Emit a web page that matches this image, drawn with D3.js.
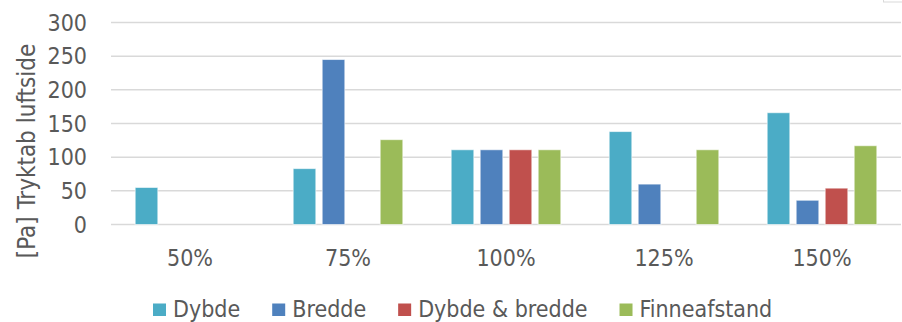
<!DOCTYPE html>
<html>
<head>
<meta charset="utf-8">
<script src="https://cdn.jsdelivr.net/npm/d3@7"></script>
<style>
  body { margin: 0; background: #fff; }
  svg text { font-family: "DejaVu Sans Condensed", "DejaVu Sans", sans-serif; fill: #595959; }
</style>
</head>
<body>
<div id="chart"></div>
<script>
// categories and series
const categories = ['50%', '75%', '100%', '125%', '150%'];
const seriesNames = ['Dybde', 'Bredde', 'Dybde & bredde', 'Finneafstand'];
const seriesColors = ['#4BACC6', '#4F81BD', '#C0504D', '#9BBB59'];

// values per series, one per category (null = no bar)
const dybde       = [55, 83, 111, 138, 166];
const bredde      = [null, 245, 111, 60, 36];
const dybdeBredde = [null, null, 111, null, 54];
const finne       = [null, 126, 111, 111, 117];
const seriesValues = [dybde, bredde, dybdeBredde, finne];

const yTicks = [0, 50, 100, 150, 200, 250, 300];
const yTitle = '[Pa] Tryktab luftside';

const width = 902, height = 322;
const margin = { top: 22.5, right: 1, bottom: 97.5, left: 111 };

const svg = d3.select('#chart').append('svg')
    .attr('width', width)
    .attr('height', height);

const x0 = d3.scaleBand()
    .domain(categories)
    .range([margin.left, width - margin.right])
    .padding(0);

// inner band: 4 slots of 29px centred in a 158px band
const groupW = x0.bandwidth() * 116 / 158;
const x1 = d3.scaleBand()
    .domain(seriesNames)
    .range([(x0.bandwidth() - groupW) / 2, (x0.bandwidth() + groupW) / 2])
    .paddingInner(0.22)
    .paddingOuter(0.11);

const y = d3.scaleLinear()
    .domain([0, 300])
    .range([height - margin.bottom, margin.top]);

// gridlines
svg.append('g')
    .selectAll('line')
    .data(yTicks)
    .join('line')
    .attr('x1', margin.left)
    .attr('x2', width - margin.right)
    .attr('y1', d => y(d))
    .attr('y2', d => y(d))
    .attr('stroke', '#D9D9D9')
    .attr('stroke-width', 1.5);

// y tick labels
svg.append('g')
    .selectAll('text')
    .data(yTicks)
    .join('text')
    .attr('x', 87)
    .attr('y', d => y(d))
    .attr('dy', '0.36em')
    .attr('text-anchor', 'end')
    .style('font-size', '23px')
    .text(d => d);

// y axis title
svg.append('text')
    .attr('transform', `translate(26,${151}) rotate(-90)`)
    .attr('text-anchor', 'middle')
    .attr('dy', '0.36em')
    .style('font-size', '24px')
    .text(yTitle);

// bars
const groups = svg.append('g')
    .selectAll('g')
    .data(categories)
    .join('g')
    .attr('transform', d => `translate(${x0(d)},0)`);

groups.selectAll('rect')
    .data((c, ci) => seriesNames.map((s, si) => ({ s, si, v: seriesValues[si][ci] })).filter(d => d.v != null))
    .join('rect')
    .attr('x', d => x1(d.s))
    .attr('width', x1.bandwidth())
    .attr('y', d => y(d.v))
    .attr('height', d => y(0) - y(d.v))
    .attr('fill', d => seriesColors[d.si])
    .attr('stroke', 'rgba(255,255,255,0.6)')
    .attr('stroke-width', 1);

// category labels
svg.append('g')
    .selectAll('text')
    .data(categories)
    .join('text')
    .attr('x', d => x0(d) + x0.bandwidth() / 2)
    .attr('y', 257.5)
    .attr('dy', '0.36em')
    .attr('text-anchor', 'middle')
    .style('font-size', '23px')
    .text(d => d);

// legend
const legend = svg.append('g');
let lx = 153;
seriesNames.forEach((name, i) => {
    legend.append('rect')
        .attr('x', lx)
        .attr('y', 303.5)
        .attr('width', 13)
        .attr('height', 12.5)
        .attr('fill', seriesColors[i]);
    const t = legend.append('text')
        .attr('x', lx + 20)
        .attr('y', 309)
        .attr('dy', '0.36em')
        .style('font-size', '23px')
        .text(name);
    lx += 20 + t.node().getComputedTextLength() + 32;
});

// stray frame corner at top right
svg.append('rect')
    .attr('x', 883.5)
    .attr('y', -3)
    .attr('width', 20)
    .attr('height', 5)
    .attr('fill', 'none')
    .attr('stroke', '#D9D9D9');
</script>
</body>
</html>
